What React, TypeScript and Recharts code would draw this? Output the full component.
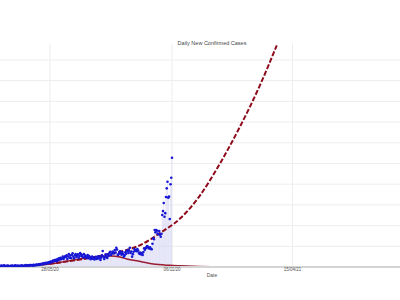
import { ComposedChart, Bar, Line, XAxis, YAxis, CartesianGrid } from 'recharts'

// day 0 = 28/05/20; first reported day is 66 days earlier
const firstDay = -66
const dailyCases = [
  600, 400, 700, 300, 500, 800, 400, 300, 600, 500, 700, 400, 300, 500, 600, 400, 700,
  500, 300, 600, 800, 400, 500, 700, 300, 600, 500, 400, 800, 600, 500, 300, 700, 600, 900, 500, 700,
  800, 600, 900, 700, 1000, 800, 600, 1100, 900, 700, 1000, 1200, 900, 1100, 1300, 1000,
  1400, 1200, 1600, 1300, 1800, 1500, 1700, 2000, 1600, 1900, 2200, 1800, 2400, 2100, 2600, 2300, 2800, 3100, 2700, 3300,
  3000, 3500, 2800, 3900, 3300, 4200, 3600, 4500, 3800, 4100, 5000, 3900, 4600, 5200,
  4800, 5600, 3900, 5100, 6200, 4500, 5500, 4300, 5900, 6600, 5000, 4200, 5700, 6300, 4800, 5500, 6100, 4400, 5300, 6700,
  6100, 5200, 5800, 4600, 6300, 5000, 5500, 4400, 4900, 5800, 4200, 5300, 4700, 3800, 4500, 5100, 4000, 4600, 3600, 4200, 4900, 3900, 4500, 5200, 4100, 5000,
  3400, 4500, 5600, 7700, 5000, 3900, 4800, 6100, 5300, 4400, 6100, 5500, 6900, 7400, 5800, 6500, 7400,
  7400, 6500, 8200, 7000, 9300, 8400, 5800, 6200, 6900, 7600, 6600, 5900, 7200, 6300, 5000, 5600, 7100, 6400, 7700, 8200, 6800,
  7900, 9300, 6800, 7500, 5000, 6200, 7400, 8700, 7900, 8200, 7600, 8700, 8000, 6900, 6300, 7000, 6100, 6600, 5800, 7200,
  9000, 8300, 9000, 9600, 10100, 9800, 9100, 9000, 9500, 8700, 8600, 11200,
  13900, 13400, 17900, 16800, 17900, 17500, 16200, 15800, 17400, 15600, 14600, 16000,
  25100, 27000, 30900, 24300, 26000, 33800, 38000, 41200, 33500, 34000, 23200, 40000, 43100, 52800,
]

// fitted curve (solid) and projection (dashed)
const fitDays = [-66, -26, 0, 13, 40, 66, 80, 93, 102, 120, 137, 159, 172, 199, 236]
const fitValues = [300, 700, 1400, 2200, 3900, 5100, 5300, 4800, 3900, 2700, 1400, 800, 600, 300, 150]
const projDays = [-66, -26, 13, 40, 66, 93, 120, 146, 173, 199, 226, 252, 279, 301]
const projValues = [200, 800, 2200, 3600, 5300, 7400, 10600, 16400, 23500, 34500, 50200, 67600, 88000, 107000]

const xTicks = [0, 162, 322]
const xTickLabels = ['28/05/20', '06/11/20', '15/04/21']
const yTicks = [0, 10000, 20000, 30000, 40000, 50000, 60000, 70000, 80000, 90000, 100000]

const daily = dailyCases.map((v, i) => ({ day: firstDay + i, cases: v }))
const fit = fitDays.map((d, i) => ({ day: d, fit: fitValues[i] }))
const proj = projDays.map((d, i) => ({ day: d, proj: projValues[i] }))

const font = '"Liberation Sans", Arial, sans-serif'

export default function App() {
  return (
    <div style={{ position: 'fixed', left: 0, top: 0, width: 400, height: 300, background: '#fff', fontFamily: font }}>
      <ComposedChart width={400} height={300} data={daily} margin={{ top: 43.4, right: 0, bottom: 21, left: 0 }}>
        <CartesianGrid stroke="#ededed" strokeWidth={1} horizontalValues={yTicks} verticalValues={xTicks} />
        <XAxis
          dataKey="day" type="number" domain={[-66.4, 464.7]} allowDataOverflow
          ticks={xTicks} tickFormatter={(v: number) => xTickLabels[xTicks.indexOf(v)] ?? ''}
          height={12} tickSize={0} tickMargin={1} interval={0}
          tick={{ fontSize: 4.5, fill: '#555', fontFamily: font }}
          axisLine={{ stroke: '#d4d4d4', strokeWidth: 2 }}
        />
        <YAxis
          type="number" domain={[0, 108000]} ticks={yTicks} allowDataOverflow interval={0}
          width={0} tick={{ fontSize: 0 }} axisLine={false} tickLine={false}
        />
        <Bar dataKey="cases" barSize={0.5} fill="#d4d4f4" isAnimationActive={false} />
        <Line
          dataKey="cases" stroke="none" isAnimationActive={false}
          dot={{ r: 1.3, fill: '#1717d4', stroke: 'none' }}
        />
        <Line
          data={fit} dataKey="fit" type="monotone" stroke="#9b1c30" strokeWidth={1.5}
          dot={false} isAnimationActive={false}
        />
        <Line
          data={proj} dataKey="proj" type="monotone" stroke="#8e0b1c" strokeWidth={2}
          strokeDasharray="5 2" dot={false} isAnimationActive={false}
        />
      </ComposedChart>
      <div style={{ position: 'absolute', left: 112, width: 200, top: 40, textAlign: 'center', fontSize: 5.5, color: '#444' }}>
        Daily New Confirmed Cases
      </div>
      <div style={{ position: 'absolute', left: 162, width: 100, top: 272, textAlign: 'center', fontSize: 5, color: '#555' }}>
        Date
      </div>
    </div>
  )
}
